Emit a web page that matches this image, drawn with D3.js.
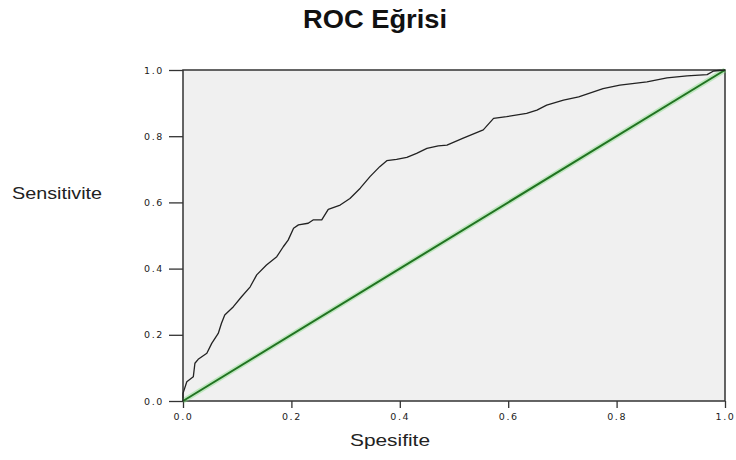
<!DOCTYPE html>
<html>
<head>
<meta charset="utf-8">
<script src="https://cdn.jsdelivr.net/npm/d3@7"></script>
<style>
  html, body { margin: 0; padding: 0; background: #ffffff; }
  svg { display: block; }
</style>
</head>
<body>
<svg id="chart" width="736" height="460"></svg>
<script>
// ROC curve points: false positive rate (x) and sensitivity (y)
const rocX = [0, 0, 0.007, 0.019, 0.022, 0.028, 0.044, 0.053, 0.065, 0.071, 0.077, 0.093,
  0.108, 0.124, 0.136, 0.154, 0.173, 0.185, 0.194, 0.204, 0.213, 0.231, 0.240, 0.256,
  0.268, 0.290, 0.308, 0.327, 0.345, 0.363, 0.376, 0.394, 0.413, 0.431, 0.450, 0.471,
  0.487, 0.517, 0.554, 0.573, 0.597, 0.634, 0.653, 0.671, 0.702, 0.730, 0.775, 0.806,
  0.856, 0.893, 0.930, 0.967, 0.979, 1.0];
const rocY = [0, 0.023, 0.058, 0.073, 0.114, 0.126, 0.144, 0.174, 0.204, 0.235, 0.260, 0.285,
  0.315, 0.345, 0.381, 0.411, 0.436, 0.466, 0.486, 0.522, 0.532, 0.537, 0.547, 0.547,
  0.579, 0.592, 0.612, 0.643, 0.678, 0.708, 0.726, 0.730, 0.736, 0.748, 0.763, 0.771,
  0.773, 0.794, 0.819, 0.854, 0.859, 0.869, 0.879, 0.894, 0.909, 0.919, 0.944, 0.954,
  0.964, 0.976, 0.982, 0.986, 0.997, 1.0];

// Reference (chance) diagonal
const diagX = [0, 1];
const diagY = [0, 1];

const tickValues = [0, 0.2, 0.4, 0.6, 0.8, 1.0];
const tickLabels = ["0.0", "0.2", "0.4", "0.6", "0.8", "1.0"];

const titleText = "ROC Eğrisi";
const xLabel = "Spesifite";
const yLabel = "Sensitivite";

const svg = d3.select("#chart");
const plot = { left: 183, right: 725, top: 70, bottom: 401 };

const x = d3.scaleLinear().domain([0, 1]).range([plot.left, plot.right]);
const y = d3.scaleLinear().domain([0, 1]).range([plot.bottom, plot.top]);

// Plot background
svg.append("rect")
  .attr("x", plot.left).attr("y", plot.top)
  .attr("width", plot.right - plot.left).attr("height", plot.bottom - plot.top)
  .attr("fill", "#f0f0f0");

const fmt = d => tickLabels[tickValues.indexOf(d)];

// Axes
const xAxis = svg.append("g")
  .attr("transform", `translate(0,${plot.bottom})`)
  .call(d3.axisBottom(x).tickValues(tickValues).tickFormat(fmt).tickSize(7).tickPadding(5));
const yAxis = svg.append("g")
  .attr("transform", `translate(${plot.left},0)`)
  .call(d3.axisLeft(y).tickValues(tickValues).tickFormat(fmt).tickSize(14).tickPadding(5));

[xAxis, yAxis].forEach(g => {
  g.select(".domain").remove();
  g.selectAll(".tick line").attr("stroke", "#333").attr("stroke-width", 1.3);
  g.selectAll(".tick text")
    .attr("fill", "#222")
    .style("font-family", "'DejaVu Sans', sans-serif")
    .style("font-size", "9.5px")
    .style("letter-spacing", "1.6px");
});

// Frame around the plot
svg.append("rect")
  .attr("x", plot.left).attr("y", plot.top)
  .attr("width", plot.right - plot.left).attr("height", plot.bottom - plot.top)
  .attr("fill", "none").attr("stroke", "#333").attr("stroke-width", 1.5);

// Diagonal reference line
const diag = diagX.map((d, i) => [d, diagY[i]]);
const line = d3.line().x(d => x(d[0])).y(d => y(d[1]));
svg.append("path").datum(diag).attr("d", line)
  .attr("fill", "none").attr("stroke", "rgba(130,220,130,0.45)").attr("stroke-width", 5);
svg.append("path").datum(diag).attr("d", line)
  .attr("fill", "none").attr("stroke", "#217321").attr("stroke-width", 2);

// ROC curve
const roc = rocX.map((d, i) => [d, rocY[i]]);
svg.append("path").datum(roc).attr("d", line)
  .attr("fill", "none").attr("stroke", "#222").attr("stroke-width", 1.3)
  .attr("stroke-linejoin", "round");

// Title and axis labels
svg.append("text")
  .attr("x", 375).attr("y", 28)
  .attr("text-anchor", "middle")
  .style("font-family", "'Liberation Sans', Arial, sans-serif")
  .style("font-weight", "bold")
  .style("font-size", "25px")
  .attr("textLength", 144).attr("lengthAdjust", "spacingAndGlyphs")
  .attr("fill", "#111")
  .text(titleText);

svg.append("text")
  .attr("x", 390).attr("y", 446)
  .attr("text-anchor", "middle")
  .style("font-family", "'Liberation Sans', Arial, sans-serif")
  .style("font-size", "17px")
  .attr("textLength", 80).attr("lengthAdjust", "spacingAndGlyphs")
  .attr("fill", "#222")
  .text(xLabel);

svg.append("text")
  .attr("x", 12).attr("y", 199)
  .style("font-family", "'Liberation Sans', Arial, sans-serif")
  .style("font-size", "17px")
  .attr("textLength", 90).attr("lengthAdjust", "spacingAndGlyphs")
  .attr("fill", "#222")
  .text(yLabel);
</script>
</body>
</html>
